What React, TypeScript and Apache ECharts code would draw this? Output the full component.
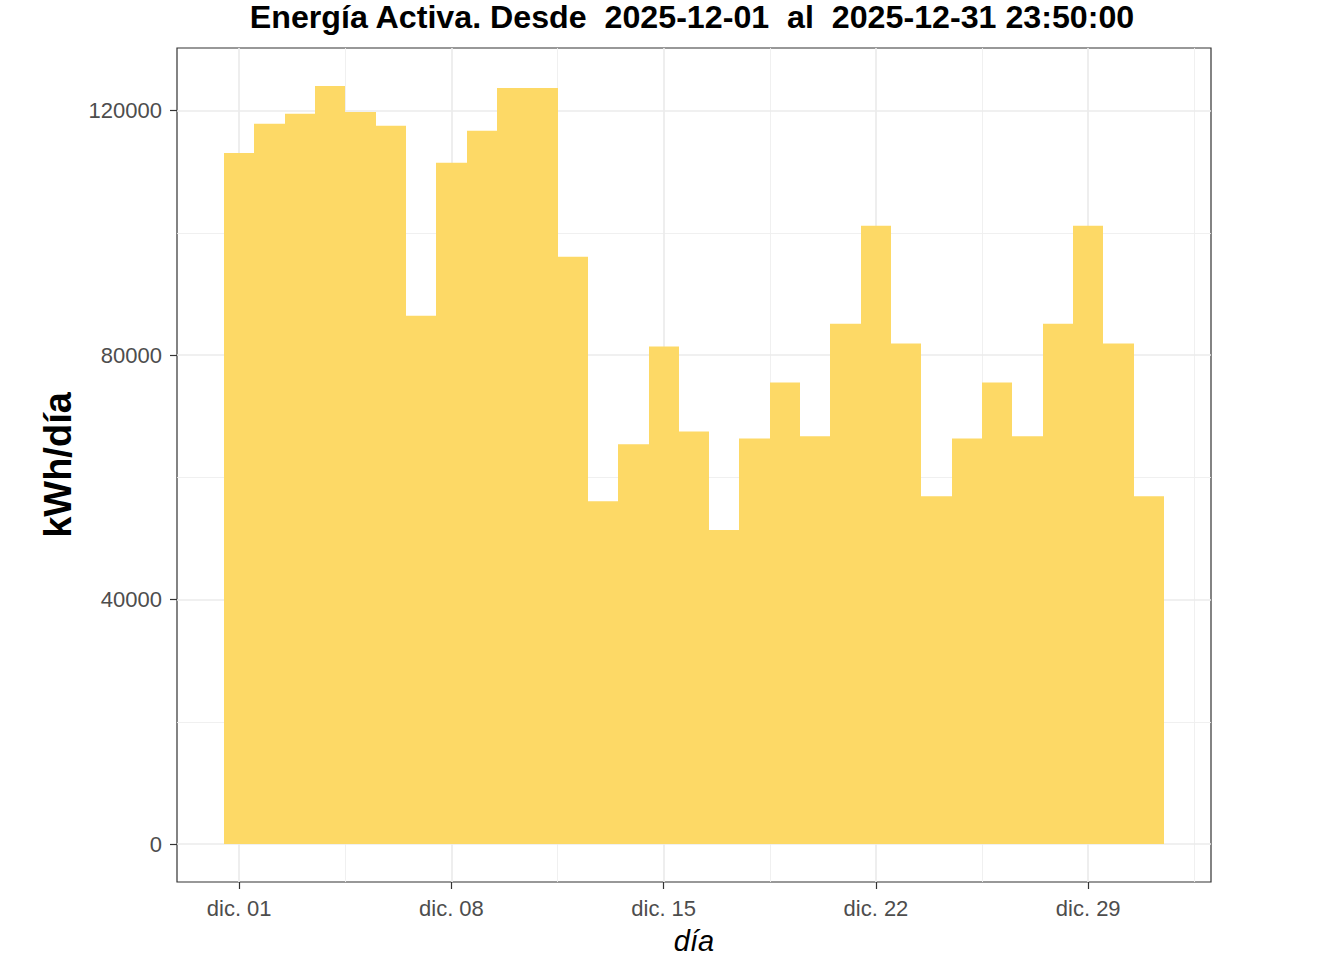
import React, { useEffect, useRef } from "react";
import * as echarts from "echarts";

const days = [1,2,3,4,5,6,7,8,9,10,11,12,13,14,15,16,17,18,19,20,21,22,23,24,25,26,27,28,29,30,31];
const energy = [113060,117850,119480,124050,119800,117520,86460,111480,116700,123720,123720,96090,56100,65400,81400,67520,51370,66380,75520,66710,85150,101150,81890,56920,66380,75520,66710,85150,101150,81890,56920];
const xTickDays = [1, 8, 15, 22, 29];
const xTickLabels = ["dic. 01", "dic. 08", "dic. 15", "dic. 22", "dic. 29"];
const xMinorDays = [4.5, 11.5, 18.5, 25.5, 32.5];
const yTicks = [0, 40000, 80000, 120000];
const yMinor = [20000, 60000, 100000];
const titleText = "Energía Activa. Desde  2025-12-01  al  2025-12-31 23:50:00";

const FONT = "'Liberation Sans', Arial, Helvetica, sans-serif";

export default function App() {
  const ref = useRef<HTMLDivElement>(null);
  useEffect(() => {
    document.body.style.margin = "0";
    const chart = echarts.init(ref.current!, null, { renderer: "svg" });
    const xMin = 0.5 - 0.05 * 31;
    const xMax = 31.5 + 0.05 * 31;
    const yMax = 124050 * 1.05;
    const yMin = -124050 * 0.05;
    const major = { color: "#EBEBEB", width: 1.7, type: "solid" };
    const minor = { color: "#EEEEEE", width: 0.9, type: "solid" };
    const gridData: any[] = [
      ...xMinorDays.map((d) => ({ xAxis: d, lineStyle: minor })),
      ...yMinor.map((v) => ({ yAxis: v, lineStyle: minor })),
      ...xTickDays.map((d) => ({ xAxis: d, lineStyle: major })),
      ...yTicks.map((v) => ({ yAxis: v, lineStyle: major })),
    ];
    chart.setOption({
      animation: false,
      backgroundColor: "#FFFFFF",
      textStyle: { fontFamily: FONT },
      title: {
        text: titleText,
        left: 692,
        top: 0,
        padding: 0,
        textAlign: "center",
        textStyle: { fontFamily: FONT, fontSize: 32.2, lineHeight: 34, fontWeight: "bold", color: "#000000" },
      },
      grid: {
        left: 177,
        right: 133,
        top: 48,
        bottom: 77.5,
        show: true,
        borderColor: "#333333",
        borderWidth: 1.2,
        backgroundColor: "#FFFFFF",
        containLabel: false,
        z: 0,
      },
      xAxis: {
        type: "value",
        min: xMin,
        max: xMax,
        name: "día",
        nameLocation: "middle",
        nameGap: 44,
        nameTextStyle: { fontFamily: FONT, fontSize: 29, fontStyle: "italic", color: "#000000" },
        axisLine: { show: false, onZero: false },
        axisTick: { show: true, length: 7, customValues: xTickDays, lineStyle: { color: "#333333", width: 1.2 } },
        axisLabel: {
          show: true,
          customValues: xTickDays,
          margin: 15,
          fontSize: 22,
          color: "#4D4D4D",
          fontFamily: FONT,
          formatter: (v: number) => xTickLabels[xTickDays.indexOf(v)] ?? "",
        },
        splitLine: { show: false },
      },
      yAxis: {
        type: "value",
        min: yMin,
        max: yMax,
        name: "kWh/día",
        nameLocation: "middle",
        nameRotate: 90,
        nameGap: 100,
        nameTextStyle: { fontFamily: FONT, fontSize: 38, fontWeight: "bold", color: "#000000" },
        axisLine: { show: false, onZero: false },
        axisTick: { show: true, length: 7, customValues: yTicks, lineStyle: { color: "#333333", width: 1.2 } },
        axisLabel: {
          show: true,
          customValues: yTicks,
          margin: 15,
          fontSize: 22,
          color: "#4D4D4D",
          fontFamily: FONT,
          formatter: (v: number) => String(v),
        },
        splitLine: { show: false },
      },
      series: [
        {
          type: "line",
          data: [],
          z: 1,
          silent: true,
          markLine: {
            silent: true,
            z: 1,
            symbol: ["none", "none"],
            label: { show: false },
            emphasis: { disabled: true },
            data: gridData,
          },
        },
        {
          type: "custom",
          z: 3,
          data: days.map((d, i) => [d, energy[i]]),
          encode: { x: 0, y: 1 },
          renderItem: (params: any, api: any) => {
            const d = api.value(0);
            const v = api.value(1);
            const p0 = api.coord([d - 0.5, v]);
            const p1 = api.coord([d + 0.5, 0]);
            const x0 = Math.round(p0[0]);
            const x1 = Math.round(p1[0]);
            return {
              type: "rect",
              shape: { x: x0, y: p0[1], width: x1 - x0, height: p1[1] - p0[1] },
              style: { fill: "#FDD966" },
            };
          },
        },
      ],
    });
    return () => chart.dispose();
  }, []);
  return <div ref={ref} style={{ width: 1344, height: 960 }} />;
}
